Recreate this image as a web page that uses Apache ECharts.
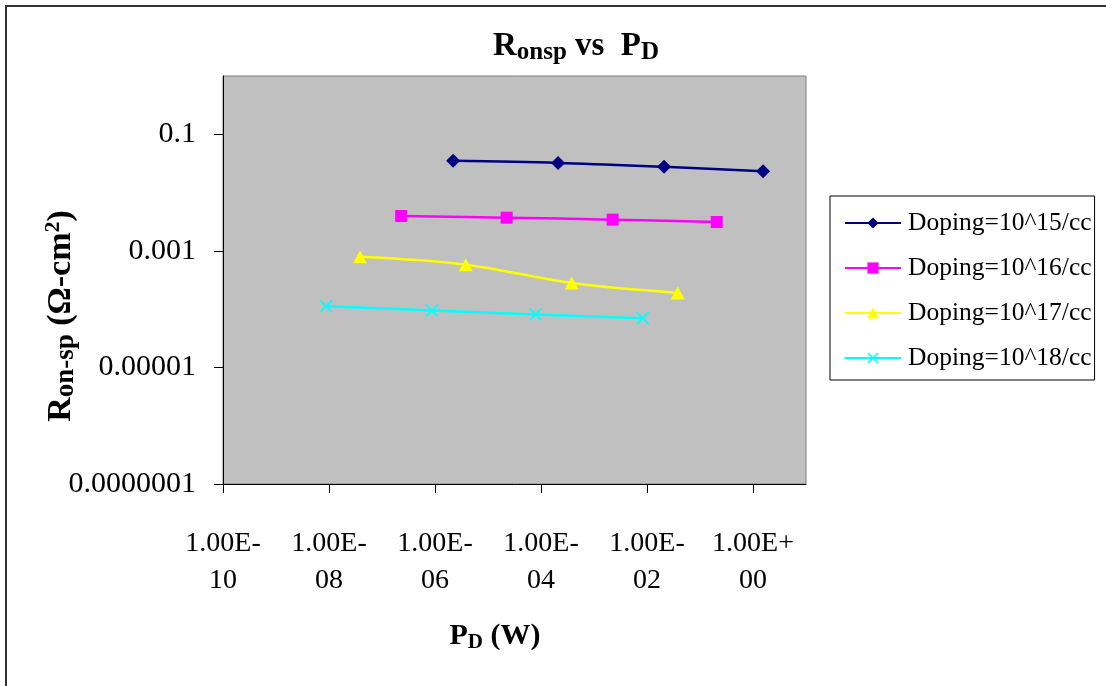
<!DOCTYPE html>
<html>
<head>
<meta charset="utf-8">
<script src="https://cdn.jsdelivr.net/npm/echarts@6/dist/echarts.min.js"></script>
<style>
html,body{margin:0;padding:0;background:#fff;}
#chart{width:1106px;height:686px;}
</style>
</head>
<body>
<div id="chart"></div>
<script>
// Series names
var seriesNames = ['Doping=10^15/cc', 'Doping=10^16/cc', 'Doping=10^17/cc', 'Doping=10^18/cc'];
// P_D (W) values per series
var pd15 = [2.2e-6, 2.1e-4, 2.1e-2, 1.55];
var pd16 = [2.3e-7, 2.25e-5, 2.25e-3, 0.207];
var pd17 = [3.85e-8, 3.8e-6, 3.8e-4, 3.8e-2];
var pd18 = [8.8e-9, 8.7e-7, 7.9e-5, 8.3e-3];
// R_on-sp values per series
var r15 = [0.035, 0.0323, 0.0276, 0.0233];
var r16 = [0.00396, 0.00371, 0.00343, 0.00313];
var r17 = [7.9e-4, 5.8e-4, 2.8e-4, 1.9e-4];
var r18 = [1.12e-4, 9.5e-5, 8.1e-5, 7.0e-5];
// Y tick labels (log axis)
var yTickLabels = {'-7': '0.0000001', '-5': '0.00001', '-3': '0.001', '-1': '0.1'};

function pairs(xs, ys) { return xs.map(function (x, i) { return [x, ys[i]]; }); }

var FONT = '"Liberation Serif", "Times New Roman", serif';
var colors = ['#000080', '#FF00FF', '#FFFF00', '#00FFFF'];
var symbols = ['diamond', 'rect', 'triangle',
  'path://M0,1 L1,0 L5,4 L9,0 L10,1 L6,5 L10,9 L9,10 L5,6 L1,10 L0,9 L4,5 Z'];
var symSizes = [[14, 14], [12, 12], [14, 13], [13, 13]];
var allX = [pd15, pd16, pd17, pd18];
var allY = [r15, r16, r17, r18];

var chart = echarts.init(document.getElementById('chart'), null, {renderer: 'canvas'});
var option = {
  animation: false,
  backgroundColor: '#fff',
  graphic: [{
    type: 'rect', shape: {x: 6, y: 6, width: 1200, height: 800},
    style: {fill: 'none', stroke: '#333', lineWidth: 2}, silent: true
  }, {
    type: 'text', x: 61, y: 316, rotation: Math.PI / 2, silent: true,
    style: {
      text: '{m|R}{s|on-sp}{m| (Ω-cm}{p|2}{m|)}',
      align: 'center', verticalAlign: 'middle',
      rich: {
        m: {fontFamily: FONT, fontWeight: 'bold', fontSize: 34, fill: '#000', lineHeight: 38, verticalAlign: 'middle'},
        s: {fontFamily: FONT, fontWeight: 'bold', fontSize: 27, fill: '#000', lineHeight: 16, verticalAlign: 'bottom'},
        p: {fontFamily: FONT, fontWeight: 'bold', fontSize: 22, fill: '#000', lineHeight: 16, verticalAlign: 'top'}
      }
    }
  }, {
    type: 'text', x: 495, y: 636, silent: true,
    style: {
      text: '{m|P}{s|D}{m| (W)}',
      align: 'center', verticalAlign: 'middle',
      rich: {
        m: {fontFamily: FONT, fontWeight: 'bold', fontSize: 30, fill: '#000', lineHeight: 34, verticalAlign: 'middle'},
        s: {fontFamily: FONT, fontWeight: 'bold', fontSize: 21, fill: '#000', lineHeight: 14, verticalAlign: 'bottom'}
      }
    }
  }, {
    type: 'text', x: 576, y: 46, silent: true,
    style: {
      text: '{m|R}{s|onsp}{m| vs  P}{s|D}',
      align: 'center', verticalAlign: 'middle',
      rich: {
        m: {fontFamily: FONT, fontWeight: 'bold', fontSize: 33, fill: '#000', lineHeight: 38, verticalAlign: 'middle'},
        s: {fontFamily: FONT, fontWeight: 'bold', fontSize: 25, fill: '#000', lineHeight: 16, verticalAlign: 'bottom'}
      }
    }
  }],
  legend: {
    orient: 'vertical',
    left: 830, top: 196,
    padding: [14, 3, 9, 14],
    borderColor: '#000', borderWidth: 1,
    itemWidth: 56, itemHeight: 14, itemGap: 19,
    textStyle: {fontFamily: FONT, fontSize: 25.5, color: '#000', padding: [0, 0, 0, 2]},
    data: seriesNames
  },
  grid: {
    left: 223, top: 76, width: 583, height: 408,
    show: true, backgroundColor: '#C0C0C0', borderColor: '#808080', borderWidth: 1
  },
  xAxis: {
    type: 'log', logBase: 10, min: 1e-10, max: 10, interval: 2,
    axisLine: {show: true, onZero: false, lineStyle: {color: '#000', width: 1}},
    axisTick: {show: true, inside: false, length: 9, lineStyle: {color: '#000'}},
    splitLine: {show: false},
    minorTick: {show: false},
    axisLabel: {
      fontFamily: FONT, fontSize: 28, color: '#000', lineHeight: 37, margin: 41,
      showMaxLabel: false,
      formatter: function (v) {
        var e = Math.round(Math.log10(v));
        if (e > 0) return '';
        var a = Math.abs(e);
        return '1.00E' + (e < 0 ? '-' : '+') + '\n' + (a < 10 ? '0' + a : '' + a);
      }
    }
  },
  yAxis: {
    type: 'log', logBase: 10, min: 1e-7, max: 1, interval: 2,
    axisLine: {show: true, onZero: false, lineStyle: {color: '#000', width: 1}},
    axisTick: {show: true, inside: false, length: 9, lineStyle: {color: '#000'}},
    splitLine: {show: false},
    minorTick: {show: false},
    axisLabel: {
      fontFamily: FONT, fontSize: 30, color: '#000', margin: 27,
      showMaxLabel: false,
      formatter: function (v) {
        var e = Math.round(Math.log10(v));
        return yTickLabels[String(e)] || '';
      }
    }
  },
  series: seriesNames.map(function (name, i) {
    return {
      name: name,
      type: 'line',
      smooth: 0.35,
      data: pairs(allX[i], allY[i]),
      symbol: symbols[i],
      symbolSize: symSizes[i],
      showSymbol: true,
      lineStyle: {color: colors[i], width: 2.5},
      itemStyle: {color: colors[i], opacity: 1},
      emphasis: {disabled: true}
    };
  })
};
chart.setOption(option);
</script>
</body>
</html>
